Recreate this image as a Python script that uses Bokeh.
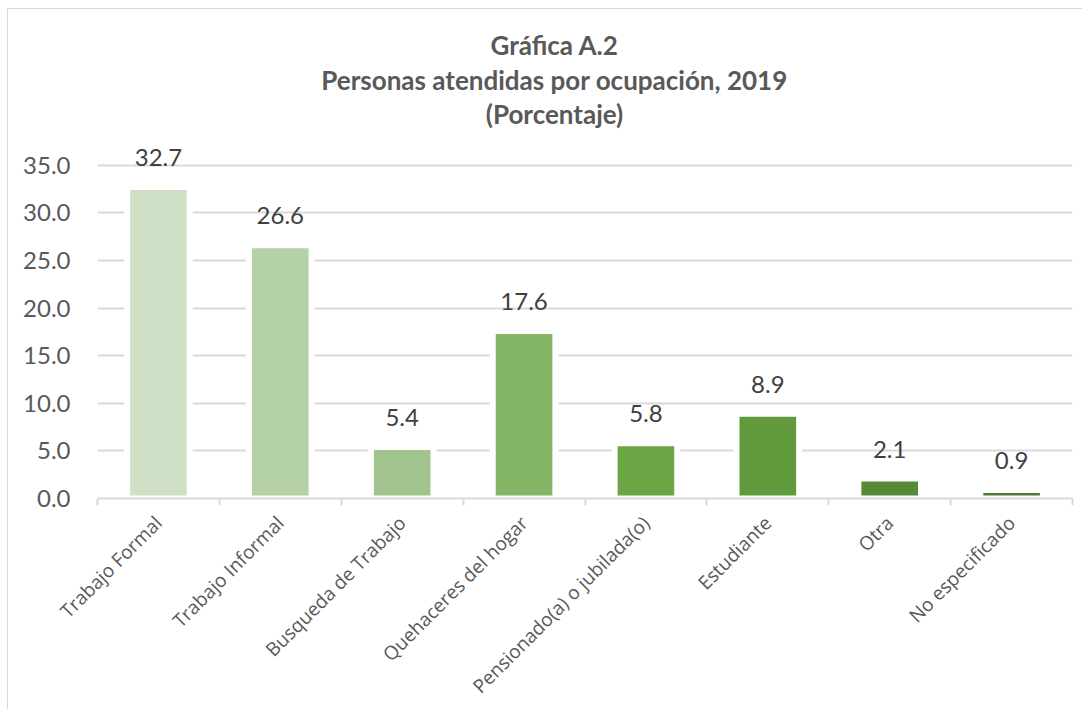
from math import pi
from bokeh.plotting import figure
from bokeh.models import (Range1d, LinearAxis, FixedTicker, NumeralTickFormatter,
                          ColumnDataSource, LabelSet, Label, Grid)
from bokeh.core.properties import value
from bokeh.embed import file_html
from bokeh.resources import INLINE

categories = ["Trabajo Formal", "Trabajo Informal", "Busqueda de Trabajo",
              "Quehaceres del hogar", "Pensionado(a) o jubilada(o)", "Estudiante",
              "Otra", "No especificado"]
values = [32.7, 26.6, 5.4, 17.6, 5.8, 8.9, 2.1, 0.9]
value_labels = ["32.7", "26.6", "5.4", "17.6", "5.8", "8.9", "2.1", "0.9"]
colors = ["#d0e0c7", "#b5d1a8", "#a1c48f", "#84b567", "#6ca544", "#619a3c",
          "#578a38", "#4c7c30"]
y_ticks = [0, 5, 10, 15, 20, 25, 30, 35]
title_lines = ["Gráfica A.2", "Personas atendidas por ocupación, 2019", "(Porcentaje)"]

n = len(categories)
xs = [i + 0.5 for i in range(n)]

p = figure(width=1075, height=701, output_backend="svg", toolbar_location=None,
           x_range=Range1d(0, n), y_range=Range1d(0, 51.35),
           x_axis_type=None, y_axis_type=None,
           min_border_left=89, min_border_right=11, min_border_top=0,
           min_border_bottom=211)
p.outline_line_color = None
p.background_fill_color = "white"
p.border_fill_color = "white"
p.styles = {"margin-left": "7px", "margin-top": "8px",
            "border-left": "1px solid #d9d9d9", "border-top": "1px solid #d9d9d9"}

grid = Grid(dimension=1, ticker=FixedTicker(ticks=y_ticks),
            grid_line_color="#d9d9d9", grid_line_width=2)
p.add_layout(grid)

src = ColumnDataSource(dict(x=xs, top=values, color=colors, label=value_labels,
                            cat=categories))
p.vbar(x="x", top="top", width=0.514, fill_color="color", line_color="white",
       line_width=6, source=src)

# y axis
yaxis = LinearAxis(ticker=FixedTicker(ticks=y_ticks),
                   formatter=NumeralTickFormatter(format="0.0"))
yaxis.axis_line_color = None
yaxis.major_tick_line_color = None
yaxis.minor_tick_line_color = None
yaxis.major_label_text_font = "Lato"
yaxis.major_label_text_font_size = "24px"
yaxis.major_label_text_color = "#595959"
yaxis.major_label_standoff = 21
p.add_layout(yaxis, "left")

# x axis
xaxis = LinearAxis(ticker=FixedTicker(ticks=xs, minor_ticks=list(range(n + 1))))
xaxis.major_label_overrides = {x: c for x, c in zip(xs, categories)}
xaxis.axis_line_color = "#d9d9d9"
xaxis.axis_line_width = 2
xaxis.major_tick_line_color = None
xaxis.major_tick_out = 0
xaxis.major_tick_in = 0
xaxis.minor_tick_line_color = "#d9d9d9"
xaxis.minor_tick_line_width = 2
xaxis.minor_tick_out = 7
xaxis.minor_tick_in = 0
xaxis.major_label_orientation = pi / 4
xaxis.major_label_text_font = "Open Sans"
xaxis.major_label_text_font_size = "19px"
xaxis.major_label_text_color = "#595959"
xaxis.major_label_standoff = 14
p.add_layout(xaxis, "below")

labels = LabelSet(x="x", y="top", text="label", source=src, text_align="center",
                  text_baseline="alphabetic", y_offset=21,
                  text_font=value("Lato"), text_font_size=value("24px"),
                  text_color="#404040")
p.add_layout(labels)

title_y = [47.6, 43.9, 40.4]
for t, ty in zip(title_lines, title_y):
    p.add_layout(Label(x=3.75, y=ty, text=t, text_align="center",
                       text_baseline="middle", text_font="Lato",
                       text_font_style="bold", text_font_size="26px",
                       text_color="#595959"))

open("out.html", "w").write(file_html(p, INLINE))
